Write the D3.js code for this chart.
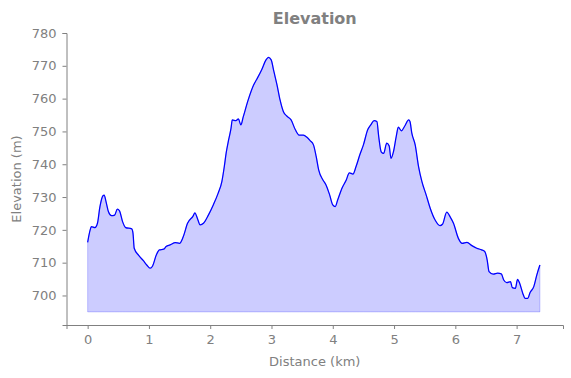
<!DOCTYPE html>
<html>
<head>
<meta charset="utf-8">
<script src="https://cdn.jsdelivr.net/npm/d3@7"></script>
<style>
  body { margin: 0; background: #fff; }
  svg { display: block; font-family: "DejaVu Sans", sans-serif; }
</style>
</head>
<body>
<div id="chart"></div>
<script>
// profil d'altitude (distance en km, altitude en m)
const distance = [0.0, 0.04, 0.06, 0.12, 0.16, 0.2, 0.25, 0.27, 0.30, 0.34, 0.39, 0.44, 0.485, 0.52, 0.57, 0.62, 0.72, 0.74, 0.76, 0.83, 0.91, 0.965, 1.02, 1.06, 1.12, 1.17, 1.24, 1.28, 1.345, 1.43, 1.50, 1.56, 1.63, 1.72, 1.75, 1.80, 1.835, 1.89, 1.97, 2.05, 2.13, 2.19, 2.23, 2.26, 2.30, 2.34, 2.36, 2.42, 2.46, 2.50, 2.54, 2.62, 2.71, 2.76, 2.84, 2.91, 2.95, 2.995, 3.04, 3.09, 3.14, 3.195, 3.25, 3.32, 3.39, 3.45, 3.52, 3.58, 3.63, 3.685, 3.73, 3.77, 3.84, 3.89, 3.95, 4.00, 4.04, 4.08, 4.15, 4.22, 4.27, 4.33, 4.38, 4.44, 4.50, 4.57, 4.62, 4.675, 4.72, 4.75, 4.79, 4.83, 4.88, 4.92, 4.95, 4.99, 5.035, 5.07, 5.12, 5.17, 5.24, 5.26, 5.29, 5.345, 5.40, 5.455, 5.525, 5.59, 5.67, 5.75, 5.79, 5.86, 5.92, 5.97, 6.05, 6.11, 6.19, 6.27, 6.35, 6.43, 6.48, 6.52, 6.55, 6.62, 6.69, 6.75, 6.79, 6.84, 6.90, 6.93, 6.98, 7.015, 7.05, 7.10, 7.14, 7.18, 7.22, 7.28, 7.33, 7.38];
const elevation = [716.2, 719.9, 721.0, 720.7, 722.0, 727.0, 730.4, 730.6, 728.6, 725.5, 724.3, 724.5, 726.3, 725.8, 722.5, 720.7, 720.3, 719.0, 714.4, 712.3, 710.6, 709.3, 708.3, 709.0, 712.3, 713.9, 714.1, 714.9, 715.4, 716.1, 715.9, 717.9, 722.0, 724.2, 725.2, 723.0, 721.5, 722.0, 724.5, 727.6, 731.2, 734.7, 739.3, 743.4, 747.4, 751.0, 753.5, 753.3, 753.8, 752.0, 754.5, 759.6, 764.2, 765.9, 768.8, 771.8, 772.6, 771.8, 768.2, 764.2, 759.6, 756.0, 754.7, 753.5, 750.5, 748.9, 748.9, 748.2, 747.2, 745.9, 742.3, 738.3, 735.2, 733.7, 730.6, 727.6, 727.1, 729.1, 732.7, 735.2, 737.4, 737.0, 739.3, 742.8, 745.9, 750.5, 752.0, 753.3, 753.0, 748.4, 743.8, 743.3, 746.4, 745.6, 741.8, 743.8, 748.4, 751.3, 750.2, 751.5, 753.5, 753.0, 749.5, 745.9, 739.3, 734.7, 730.6, 726.6, 723.0, 721.3, 721.7, 725.4, 723.8, 722.0, 717.4, 715.9, 716.2, 715.2, 714.4, 713.9, 713.4, 710.8, 707.3, 706.5, 706.8, 706.6, 704.7, 703.9, 704.2, 702.4, 702.2, 704.9, 703.7, 700.7, 699.1, 699.1, 700.9, 702.7, 706.3, 709.3];
const xTicks = [0, 1, 2, 3, 4, 5, 6, 7];
const yTicks = [700, 710, 720, 730, 740, 750, 760, 770, 780];
const baseline = 695;

const width = 571, height = 378;
const margin = { top: 33, right: 8, bottom: 53, left: 66.5 };
const grey = '#808080';

const points = distance.map((d, i) => ({ x: d, y: elevation[i] }));

const x = d3.scaleLinear().domain([-0.345, 7.757]).range([margin.left, width - margin.right]);
const y = d3.scaleLinear().domain([691, 780]).range([height - margin.bottom, margin.top]);

const svg = d3.select('#chart').append('svg')
  .attr('width', width)
  .attr('height', height);

// --- Aire ---
svg.append('path')
  .datum(points)
  .attr('fill', 'rgb(204,204,255)')
  .attr('stroke', 'rgba(0,0,255,0.2)')
  .attr('stroke-width', 1)
  .attr('d', d3.area()
    .x(d => x(d.x))
    .y0(y(baseline))
    .y1(d => y(d.y))
    .curve(d3.curveMonotoneX));

// --- Ligne ---
svg.append('path')
  .datum(points)
  .attr('fill', 'none')
  .attr('stroke', '#0000ff')
  .attr('stroke-width', 1.25)
  .attr('stroke-linejoin', 'round')
  .attr('d', d3.line()
    .x(d => x(d.x))
    .y(d => y(d.y))
    .curve(d3.curveMonotoneX));

// --- Axes ---
const xAxis = svg.append('g')
  .attr('transform', `translate(0,${height - margin.bottom})`)
  .call(d3.axisBottom(x).tickValues(xTicks).tickFormat(d3.format('d')).tickSizeOuter(0).tickSize(4).tickPadding(6));
const yAxis = svg.append('g')
  .attr('transform', `translate(${margin.left},0)`)
  .call(d3.axisLeft(y).tickValues(yTicks).tickFormat(d3.format('d')).tickSizeOuter(0).tickSize(4).tickPadding(6));

[xAxis, yAxis].forEach(a => {
  a.select('.domain').attr('stroke', grey).attr('stroke-width', 1);
  a.selectAll('.tick line').attr('stroke', grey);
  a.selectAll('.tick text')
    .attr('fill', grey)
    .attr('font-size', '13px')
    .attr('font-family', '"DejaVu Sans", sans-serif');
});

// --- Titres ---
svg.append('text')
  .attr('x', (margin.left + width - margin.right) / 2)
  .attr('y', 24)
  .attr('text-anchor', 'middle')
  .attr('fill', grey)
  .attr('font-weight', 'bold')
  .attr('font-size', '16px')
  .text('Elevation');

svg.append('text')
  .attr('x', (margin.left + width - margin.right) / 2)
  .attr('y', 366)
  .attr('text-anchor', 'middle')
  .attr('fill', grey)
  .attr('font-size', '13px')
  .text('Distance (km)');

svg.append('text')
  .attr('transform', `translate(21,${(margin.top + height - margin.bottom) / 2}) rotate(-90)`)
  .attr('text-anchor', 'middle')
  .attr('fill', grey)
  .attr('font-size', '13px')
  .text('Elevation (m)');
</script>
</body>
</html>
